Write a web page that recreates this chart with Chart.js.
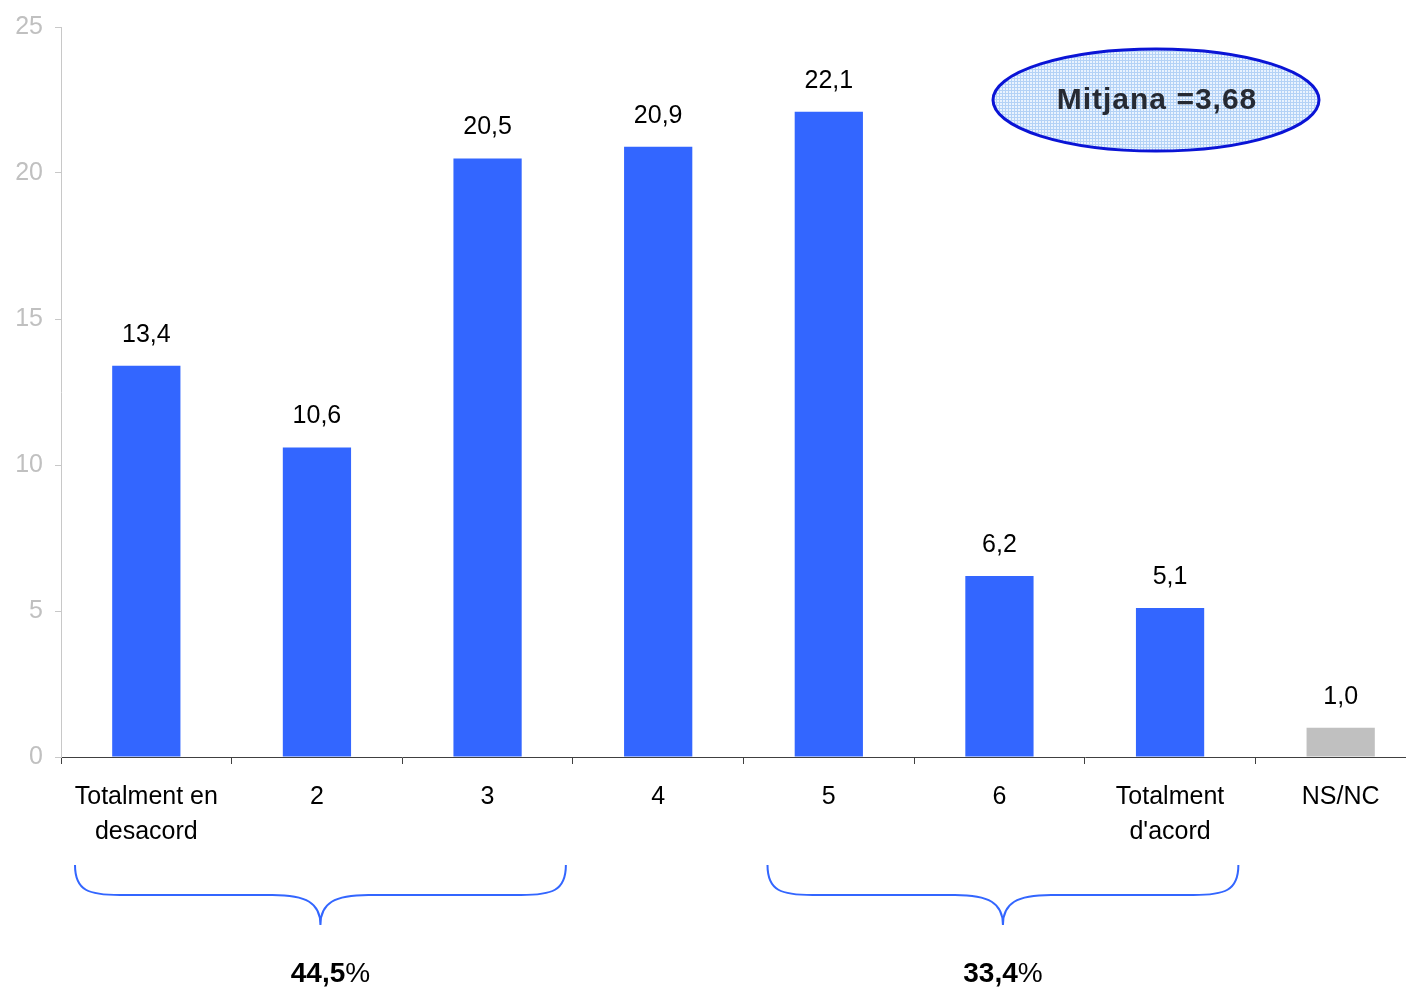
<!DOCTYPE html>
<html>
<head>
<meta charset="utf-8">
<script src="https://cdn.jsdelivr.net/npm/chart.js@4.4.1/dist/chart.umd.min.js"></script>
<style>
  html, body { margin: 0; padding: 0; background: #fff; overflow: hidden; }
  #chart { display: block; }
</style>
</head>
<body>
<canvas id="chart" width="1430" height="987"></canvas>
<script>
/* ── Data ── */
const categories = [['Totalment en', 'desacord'], '2', '3', '4', '5', '6', ['Totalment', "d'acord"], 'NS/NC'];
const values     = [13.4, 10.6, 20.5, 20.9, 22.1, 6.2, 5.1, 1.0];
const barColors  = ['#3366FF', '#3366FF', '#3366FF', '#3366FF', '#3366FF', '#3366FF', '#3366FF', '#C0C0C0'];
const yTicks     = [0, 5, 10, 15, 20, 25];

// groups summarised under a brace: first/last category index + label
const braceFrom   = [0, 4];
const braceTo     = [2, 6];
const braceLabels = ['44,5', '33,4'];

const meanLabel = 'Mitjana =3,68';

const FONT = '"Liberation Sans", Arial, sans-serif';
const fmt = v => v.toFixed(1).replace('.', ',');

/* ── Value labels above bars ── */
const valueLabels = {
  id: 'valueLabels',
  afterDatasetsDraw(chart) {
    const ctx = chart.ctx;
    const meta = chart.getDatasetMeta(0);
    ctx.save();
    ctx.font = '25px ' + FONT;
    ctx.fillStyle = '#000';
    ctx.textAlign = 'center';
    ctx.textBaseline = 'alphabetic';
    meta.data.forEach((bar, i) => {
      ctx.fillText(fmt(values[i]), bar.x, bar.y - 24);
    });
    ctx.restore();
  }
};

/* ── Braces + group percentages ── */
// inset of each brace end from the category edge (style only)
const braceInsetL = [14, 24];
const braceInsetR = [7, 17];

const braces = {
  id: 'braces',
  afterDraw(chart) {
    const ctx = chart.ctx;
    const x = chart.scales.x;
    const half = (x.getPixelForValue(1) - x.getPixelForValue(0)) / 2;
    const top = 865, mid = 895, tip = 925;
    ctx.save();
    braceFrom.forEach((from, g) => {
      const x1 = x.getPixelForValue(from) - half + braceInsetL[g];
      const x2 = x.getPixelForValue(braceTo[g]) + half - braceInsetR[g];
      const cx = (x1 + x2) / 2;
      ctx.beginPath();
      ctx.moveTo(x1, top);
      ctx.bezierCurveTo(x1, mid - 4, x1 + 14, mid, x1 + 45, mid);
      ctx.lineTo(cx - 48, mid);
      ctx.bezierCurveTo(cx - 14, mid, cx, mid + 8, cx, tip);
      ctx.bezierCurveTo(cx, mid + 8, cx + 14, mid, cx + 48, mid);
      ctx.lineTo(x2 - 45, mid);
      ctx.bezierCurveTo(x2 - 14, mid, x2, mid - 4, x2, top);
      ctx.strokeStyle = '#3366FF';
      ctx.lineWidth = 2;
      ctx.stroke();

      // "44,5" bold + "%" regular, centred together
      const num = braceLabels[g];
      ctx.font = 'bold 28px ' + FONT;
      const wNum = ctx.measureText(num).width;
      ctx.font = '28px ' + FONT;
      const wPct = ctx.measureText('%').width;
      const start = cx + (g === 0 ? 10 : 0) - (wNum + wPct) / 2;
      ctx.fillStyle = '#000';
      ctx.textAlign = 'left';
      ctx.textBaseline = 'alphabetic';
      ctx.font = 'bold 28px ' + FONT;
      ctx.fillText(num, start, 982);
      ctx.font = '28px ' + FONT;
      ctx.fillText('%', start + wNum, 982);
    });
    ctx.restore();
  }
};

/* ── "Mitjana" ellipse ── */
function dotPattern(ctx) {
  const p = document.createElement('canvas');
  p.width = 3; p.height = 3;
  const pc = p.getContext('2d');
  pc.fillStyle = '#eaf3fe';
  pc.fillRect(0, 0, 3, 3);
  pc.fillStyle = '#b4d2f6';
  pc.fillRect(0, 0, 1, 3);
  pc.fillRect(0, 0, 3, 1);
  return ctx.createPattern(p, 'repeat');
}

const meanBubble = {
  id: 'meanBubble',
  afterDraw(chart) {
    const ctx = chart.ctx;
    const cx = 1156, cy = 100, rx = 163, ry = 51;
    ctx.save();
    ctx.beginPath();
    ctx.ellipse(cx, cy, rx, ry, 0, 0, Math.PI * 2);
    ctx.fillStyle = dotPattern(ctx);
    ctx.fill();
    ctx.strokeStyle = '#0A14D6';
    ctx.lineWidth = 3;
    ctx.stroke();
    ctx.font = 'bold 30px ' + FONT;
    ctx.letterSpacing = '1px';
    ctx.fillStyle = '#262a33';
    ctx.textAlign = 'center';
    ctx.textBaseline = 'middle';
    ctx.fillText(meanLabel, cx + 1, cy + 1);
    ctx.restore();
  }
};

/* ── Chart ── */
new Chart(document.getElementById('chart').getContext('2d'), {
  type: 'bar',
  data: {
    labels: categories,
    datasets: [{
      data: values,
      backgroundColor: barColors,
      borderWidth: 0,
      barPercentage: 0.4,
      categoryPercentage: 1
    }]
  },
  options: {
    responsive: false,
    animation: false,
    events: [],
    layout: { padding: { top: 25, right: 4, bottom: 0, left: 0 } },
    plugins: {
      legend: { display: false },
      tooltip: { enabled: false }
    },
    scales: {
      x: {
        grid: { offset: true, drawOnChartArea: false, drawTicks: true, tickLength: 7, color: '#404040', lineWidth: 1 },
        border: { color: '#404040', width: 1 },
        ticks: {
          color: '#000',
          font: { family: FONT, size: 25, lineHeight: 1.42 },
          padding: 15,
          maxRotation: 0,
          autoSkip: false
        },
        afterFit: s => { s.height = 230; }
      },
      y: {
        min: 0,
        max: 25,
        afterBuildTicks: s => { s.ticks = yTicks.map(v => ({ value: v })); },
        grid: { drawOnChartArea: false, drawTicks: true, tickLength: 6, color: '#c8c8c8' },
        border: { color: '#c8c8c8', width: 1 },
        ticks: {
          color: '#c0c0c0',
          font: { family: FONT, size: 25 },
          padding: 12
        },
        afterFit: s => { s.width = 61; }
      }
    }
  },
  plugins: [valueLabels, braces, meanBubble]
});
</script>
</body>
</html>
